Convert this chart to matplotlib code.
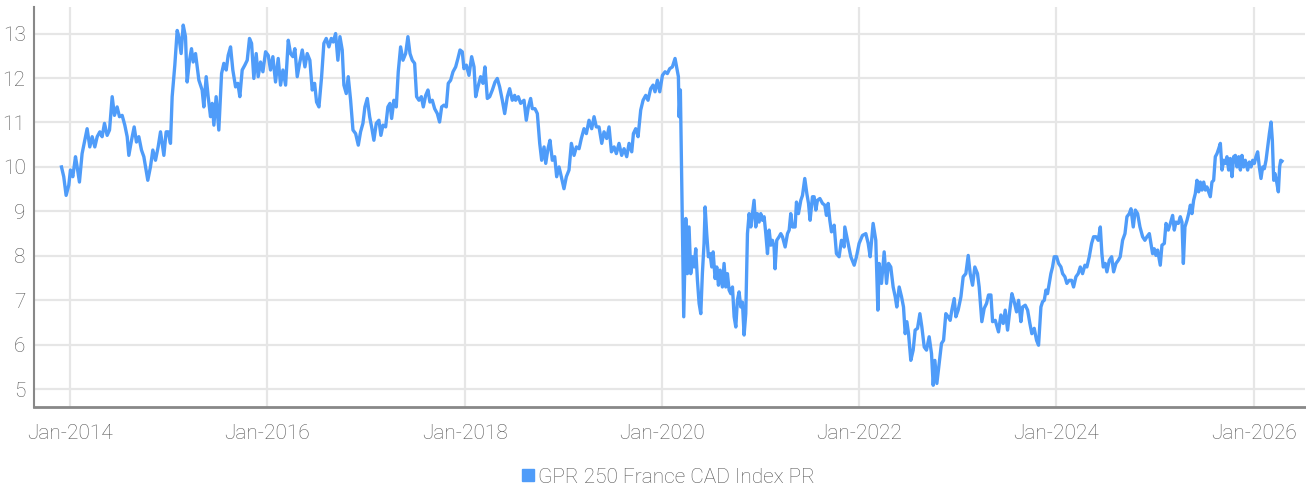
#! /usr/bin/env python3

import numpy as np
import matplotlib
matplotlib.use('Agg')
import matplotlib.pyplot as plt
from matplotlib.lines import Line2D

plt.rcParams['font.family'] = ['Roboto', 'DejaVu Sans']
plt.rcParams['font.weight'] = 'light'

SERIES_NAME = 'GPR 250 France CAD Index PR'
LINE_COLOR = '#4f9cf9'
TEXT_COLOR = '#555555'

# decimal years / index level
years_a = [2013.914, 2013.937, 2013.961, 2013.988, 2014.005, 2014.029, 2014.056, 2014.073, 2014.096, 2014.123,
           2014.150, 2014.174, 2014.201, 2014.225, 2014.252, 2014.276, 2014.303, 2014.326, 2014.350, 2014.377,
           2014.401, 2014.428, 2014.451, 2014.478, 2014.502, 2014.529, 2014.556, 2014.580, 2014.597, 2014.624,
           2014.651, 2014.674, 2014.698, 2014.725, 2014.749, 2014.766, 2014.789, 2014.816, 2014.840, 2014.867,
           2014.894, 2014.918, 2014.935, 2014.952, 2014.975, 2014.996, 2015.019, 2015.036, 2015.063, 2015.087,
           2015.104, 2015.127, 2015.148, 2015.171, 2015.188, 2015.212, 2015.232, 2015.249]
values_a = [10.0, 9.78, 9.36, 9.59, 9.93, 9.78, 10.23, 10.0, 9.66, 10.3,
            10.6, 10.86, 10.45, 10.68, 10.45, 10.68, 10.79, 10.68, 10.98, 10.71,
            10.83, 11.58, 11.16, 11.35, 11.13, 11.16, 10.94, 10.68, 10.26, 10.6,
            10.9, 10.56, 10.68, 10.38, 10.23, 10.0, 9.7, 10.0, 10.38, 10.15,
            10.45, 10.79, 10.53, 10.26, 10.79, 10.79, 10.53, 11.58, 12.29, 13.07,
            12.93, 12.55, 13.19, 12.93, 11.91, 12.4, 12.66, 12.36]

years_b = [2015.273, 2015.307, 2015.340, 2015.357, 2015.381, 2015.401, 2015.425, 2015.442, 2015.459, 2015.482,
           2015.509, 2015.537, 2015.560, 2015.584, 2015.604, 2015.628, 2015.651, 2015.679, 2015.702, 2015.722,
           2015.746, 2015.773, 2015.797, 2015.820, 2015.841, 2015.864, 2015.888, 2015.908, 2015.932, 2015.956,
           2015.983, 2016.010, 2016.033, 2016.057, 2016.084, 2016.111, 2016.135, 2016.159, 2016.186, 2016.213,
           2016.236, 2016.260, 2016.280, 2016.304, 2016.328, 2016.355, 2016.382, 2016.405, 2016.432, 2016.456,
           2016.480, 2016.500, 2016.524, 2016.551, 2016.574, 2016.598, 2016.625, 2016.649, 2016.669, 2016.693,
           2016.716, 2016.737, 2016.760, 2016.777, 2016.801, 2016.821, 2016.845, 2016.869]
values_b = [12.55, 11.95, 11.73, 11.35, 12.03, 11.58, 11.13, 11.43, 10.94, 11.58,
            10.83, 12.1, 12.33, 12.18, 12.51, 12.7, 12.18, 11.8, 11.88, 11.58,
            12.18, 12.29, 12.4, 12.89, 12.78, 11.99, 12.55, 12.03, 12.36, 12.14,
            12.59, 12.51, 12.18, 12.48, 11.91, 12.44, 11.84, 12.18, 11.84, 12.85,
            12.55, 12.48, 12.66, 12.03, 12.33, 12.63, 12.25, 12.55, 12.4, 11.73,
            11.88, 11.46, 11.35, 12.03, 12.78, 12.89, 12.7, 12.89, 12.81, 13.0,
            12.4, 12.93, 12.63, 11.84, 11.65, 12.03, 11.5, 10.83]

years_c = [2016.896, 2016.923, 2016.946, 2016.970, 2016.990, 2017.014, 2017.038, 2017.058, 2017.081, 2017.105,
           2017.132, 2017.152, 2017.173, 2017.200, 2017.223, 2017.244, 2017.261, 2017.284, 2017.308, 2017.328,
           2017.352, 2017.376, 2017.403, 2017.426, 2017.447, 2017.470, 2017.494, 2017.514, 2017.538, 2017.562,
           2017.582, 2017.606, 2017.629, 2017.649, 2017.673, 2017.697, 2017.724, 2017.747, 2017.768, 2017.791,
           2017.815, 2017.835, 2017.859, 2017.883, 2017.910, 2017.933, 2017.954, 2017.977, 2017.994, 2018.018,
           2018.045, 2018.072, 2018.096, 2018.113, 2018.136, 2018.163, 2018.187, 2018.207, 2018.231, 2018.255,
           2018.282, 2018.309, 2018.332, 2018.356, 2018.383, 2018.407, 2018.434, 2018.457, 2018.484, 2018.508]
values_c = [10.75, 10.49, 10.79, 10.98, 11.35, 11.54, 11.13, 10.9, 10.6, 10.98,
            11.05, 10.71, 10.94, 10.9, 11.35, 11.43, 11.09, 11.5, 11.35, 12.14,
            12.7, 12.4, 12.55, 12.93, 12.55, 12.4, 12.33, 11.58, 11.5, 11.58,
            11.35, 11.61, 11.73, 11.46, 11.5, 11.31, 11.2, 11.01, 11.35, 11.39,
            11.35, 11.88, 11.95, 12.14, 12.25, 12.44, 12.63, 12.59, 12.21, 12.29,
            12.06, 12.48, 12.25, 11.58, 11.8, 12.03, 11.88, 12.25, 11.54, 11.58,
            11.73, 11.91, 11.99, 11.8, 11.5, 11.2, 11.58, 11.76, 11.5, 11.61]

years_d = [2018.518, 2018.545, 2018.569, 2018.603, 2018.626, 2018.647, 2018.670, 2018.687, 2018.714, 2018.738,
           2018.762, 2018.782, 2018.806, 2018.823, 2018.846, 2018.866, 2018.890, 2018.914, 2018.934, 2018.958,
           2018.981, 2019.008, 2019.032, 2019.059, 2019.083, 2019.110, 2019.134, 2019.161, 2019.184, 2019.211,
           2019.235, 2019.262, 2019.289, 2019.313, 2019.336, 2019.363, 2019.391, 2019.414, 2019.441, 2019.465,
           2019.489, 2019.516, 2019.539, 2019.566, 2019.593, 2019.617, 2019.644, 2019.668, 2019.695, 2019.712,
           2019.735, 2019.759, 2019.786, 2019.810, 2019.837, 2019.860, 2019.887, 2019.911, 2019.931, 2019.955,
           2019.979, 2020.006, 2020.033, 2020.056, 2020.080, 2020.107, 2020.134]
values_d = [11.5, 11.58, 11.43, 11.5, 11.05, 11.35, 11.54, 11.31, 11.31, 11.2,
            10.53, 10.15, 10.45, 10.08, 10.41, 10.6, 10.15, 10.23, 9.78, 10.0,
            9.78, 9.51, 9.78, 9.93, 10.53, 10.26, 10.45, 10.41, 10.64, 10.86,
            10.75, 11.05, 10.86, 11.13, 10.9, 10.9, 10.53, 10.79, 10.64, 10.9,
            10.34, 10.45, 10.3, 10.53, 10.26, 10.41, 10.23, 10.53, 10.34, 10.75,
            10.86, 10.68, 11.28, 11.5, 11.61, 11.5, 11.76, 11.84, 11.69, 11.95,
            11.69, 12.06, 12.14, 12.1, 12.21, 12.25, 12.44]

years_e = [2020.168, 2020.175, 2020.188, 2020.222, 2020.243, 2020.259, 2020.276, 2020.293, 2020.310, 2020.327,
           2020.344, 2020.361, 2020.378, 2020.395, 2020.411, 2020.428, 2020.439, 2020.455, 2020.472, 2020.489,
           2020.506, 2020.520, 2020.540, 2020.557, 2020.574, 2020.591, 2020.614, 2020.631, 2020.648, 2020.665,
           2020.682, 2020.699, 2020.716, 2020.733, 2020.750, 2020.766, 2020.783, 2020.800, 2020.817, 2020.834,
           2020.851, 2020.868, 2020.885, 2020.902, 2020.919, 2020.935, 2020.952, 2020.969, 2020.986, 2021.003,
           2021.020, 2021.037, 2021.054, 2021.071, 2021.088, 2021.105, 2021.121, 2021.138, 2021.148, 2021.165,
           2021.189, 2021.206, 2021.223, 2021.250, 2021.274, 2021.291, 2021.307, 2021.324, 2021.351, 2021.365,
           2021.385, 2021.409, 2021.426, 2021.449, 2021.470, 2021.487, 2021.503, 2021.527, 2021.544, 2021.561,
           2021.578, 2021.602, 2021.629, 2021.652, 2021.669, 2021.686, 2021.703, 2021.720, 2021.747, 2021.770,
           2021.797, 2021.821, 2021.848]
values_e = [12.03, 11.13, 11.73, 6.63, 8.84, 7.6, 8.65, 7.6, 7.98, 7.75,
            8.16, 7.45, 6.93, 6.7, 7.6, 8.28, 9.1, 8.5, 7.98, 8.05,
            7.75, 8.09, 7.49, 7.75, 7.34, 7.68, 7.3, 7.83, 7.3, 7.6,
            7.23, 7.15, 7.3, 6.63, 6.4, 7.0, 7.19, 6.85, 6.96, 6.22,
            6.7, 8.5, 8.95, 8.65, 8.95, 9.25, 8.65, 8.95, 8.76, 8.95,
            8.8, 8.88, 8.5, 8.05, 8.58, 8.24, 8.35, 8.2, 7.71, 8.35,
            8.43, 8.5, 8.43, 8.2, 8.5, 8.58, 8.95, 8.65, 8.65, 9.21,
            8.95, 9.25, 9.36, 9.74, 9.4, 9.18, 8.8, 9.33, 9.33, 9.03,
            9.25, 9.29, 9.18, 9.14, 8.91, 9.18, 8.8, 8.54, 8.69, 8.05,
            7.98, 8.35, 8.2]

years_f = [2021.855, 2021.882, 2021.916, 2021.950, 2021.973, 2022.000, 2022.034, 2022.068, 2022.092, 2022.112,
           2022.142, 2022.169, 2022.190, 2022.203, 2022.227, 2022.254, 2022.278, 2022.298, 2022.321, 2022.345,
           2022.366, 2022.382, 2022.406, 2022.430, 2022.450, 2022.467, 2022.484, 2022.501, 2022.524, 2022.548,
           2022.568, 2022.592, 2022.616, 2022.636, 2022.660, 2022.683, 2022.710, 2022.734, 2022.751, 2022.768,
           2022.788, 2022.812, 2022.835, 2022.856, 2022.879, 2022.903, 2022.923, 2022.940, 2022.964, 2022.981,
           2023.004, 2023.032, 2023.055, 2023.082, 2023.106, 2023.126, 2023.150, 2023.173, 2023.200, 2023.217,
           2023.244, 2023.268, 2023.292, 2023.312, 2023.336, 2023.353, 2023.380]
values_f = [8.65, 8.35, 7.98, 7.79, 7.98, 8.28, 8.46, 8.5, 8.28, 7.98,
            8.73, 8.35, 6.78, 7.83, 7.38, 8.09, 7.38, 7.83, 7.75, 7.3,
            7.08, 6.85, 7.3, 7.08, 6.85, 6.25, 6.52, 6.25, 5.65, 5.88,
            6.33, 6.37, 6.7, 6.4, 5.95, 5.88, 6.18, 5.8, 5.09, 5.65,
            5.13, 5.58, 6.03, 6.1, 6.7, 6.63, 6.55, 6.78, 7.04, 6.63,
            6.78, 7.08, 7.53, 7.6, 8.01, 7.6, 7.34, 7.75, 7.6, 7.3,
            6.52, 6.82, 6.93, 7.12, 7.12, 6.52, 6.55]

years_g = [2023.413, 2023.437, 2023.461, 2023.481, 2023.505, 2023.528, 2023.549, 2023.572, 2023.596, 2023.616,
           2023.640, 2023.657, 2023.684, 2023.708, 2023.731, 2023.751, 2023.775, 2023.799, 2023.819, 2023.843,
           2023.860, 2023.877, 2023.894, 2023.910, 2023.927, 2023.944, 2023.961, 2023.978, 2024.002, 2024.022,
           2024.046, 2024.063, 2024.086, 2024.106, 2024.130, 2024.154, 2024.174, 2024.198, 2024.221, 2024.242,
           2024.265, 2024.289, 2024.309, 2024.333, 2024.357, 2024.377, 2024.401, 2024.424, 2024.445, 2024.461,
           2024.475, 2024.495, 2024.512, 2024.536, 2024.560, 2024.580, 2024.604, 2024.627, 2024.647, 2024.671,
           2024.695, 2024.715, 2024.739, 2024.756, 2024.779, 2024.800, 2024.823, 2024.847, 2024.874, 2024.897,
           2024.918, 2024.942]
values_g = [6.29, 6.67, 6.48, 6.78, 6.33, 6.78, 7.15, 6.97, 6.74, 7.0,
            6.52, 6.85, 6.89, 6.78, 6.48, 6.25, 6.37, 6.1, 5.99, 6.85,
            6.97, 7.0, 7.23, 7.15, 7.38, 7.6, 7.75, 7.98, 7.98, 7.83,
            7.75, 7.6, 7.53, 7.38, 7.45, 7.45, 7.3, 7.53, 7.6, 7.75,
            7.6, 7.79, 7.75, 7.98, 8.28, 8.43, 8.43, 8.35, 8.65, 8.05,
            7.75, 7.83, 7.64, 7.9, 7.98, 7.64, 7.83, 7.9, 7.98, 8.35,
            8.5, 8.88, 8.95, 9.06, 8.65, 9.03, 8.95, 8.65, 8.43, 8.35,
            8.43, 8.5]

years_h = [2024.975, 2024.992, 2025.009, 2025.026, 2025.053, 2025.070, 2025.094, 2025.111, 2025.134, 2025.155,
           2025.178, 2025.195, 2025.212, 2025.236, 2025.256, 2025.273, 2025.287, 2025.303, 2025.324, 2025.341,
           2025.358, 2025.374, 2025.391, 2025.408, 2025.425, 2025.442, 2025.459, 2025.476, 2025.493, 2025.510,
           2025.526, 2025.543, 2025.560, 2025.577, 2025.594, 2025.611, 2025.628, 2025.645, 2025.662, 2025.679,
           2025.696, 2025.712, 2025.729, 2025.746, 2025.763, 2025.780, 2025.797, 2025.814, 2025.831, 2025.848,
           2025.865, 2025.881, 2025.898, 2025.915, 2025.939, 2025.956, 2025.973, 2025.990, 2026.007, 2026.023,
           2026.040, 2026.057, 2026.074, 2026.091, 2026.108, 2026.125, 2026.142, 2026.159, 2026.176, 2026.189,
           2026.203, 2026.216, 2026.233, 2026.250, 2026.263, 2026.274, 2026.287]
values_h = [8.05, 8.16, 8.01, 8.13, 7.79, 8.24, 8.28, 8.73, 8.58, 8.73,
            8.91, 8.58, 8.76, 8.73, 8.88, 8.76, 7.83, 8.65, 8.8, 8.95,
            9.14, 8.95, 9.25, 9.4, 9.7, 9.44, 9.66, 9.48, 9.66, 9.48,
            9.55, 9.44, 9.33, 9.66, 9.7, 10.23, 10.3, 10.41, 10.53, 9.93,
            10.15, 10.08, 10.23, 9.93, 10.19, 9.78, 10.23, 10.26, 10.0, 10.23,
            9.93, 10.26, 10.0, 10.15, 9.93, 10.11, 10.0, 10.15, 10.08, 10.23,
            10.34, 10.0, 9.74, 10.0, 9.96, 10.15, 10.45, 10.75, 11.01, 10.6,
            9.7, 9.85, 9.66, 9.44, 10.0, 10.15, 10.13]

tick_years = [2014, 2016, 2018, 2020, 2022, 2024, 2026]
tick_labels = ['Jan-2014', 'Jan-2016', 'Jan-2018', 'Jan-2020', 'Jan-2022', 'Jan-2024', 'Jan-2026']
y_ticks = [5, 6, 7, 8, 9, 10, 11, 12, 13]

years = np.concatenate([years_a, years_b, years_c, years_d, years_e, years_f, years_g, years_h])
values = np.concatenate([values_a, values_b, values_c, values_d, values_e, values_f, values_g, values_h])

fig = plt.figure(figsize=(13.06, 4.91), dpi=100)
ax = fig.add_axes([0.026, 0.171, 0.973, 0.815])

ax.plot(years, values, color=LINE_COLOR, lw=2.4, solid_joinstyle='round', zorder=3)

ax.set_xlim(2013.635, 2026.517)
ax.set_ylim(4.6, 13.6)
ax.set_xticks(tick_years)
ax.set_xticklabels(tick_labels)
ax.set_yticks(y_ticks)

ax.grid(True, color='#e6e6e6', lw=1.6, zorder=0)
ax.tick_params(length=0, labelsize=15, labelcolor=TEXT_COLOR)
ax.tick_params(axis='x', pad=12)
ax.tick_params(axis='y', pad=6)

for side in ['top', 'right']:
    ax.spines[side].set_visible(False)
ax.spines['left'].set_color('#888888')
ax.spines['left'].set_linewidth(1.5)
ax.spines['bottom'].set_color('#888888')
ax.spines['bottom'].set_linewidth(2.0)

handle = Line2D([], [], color=LINE_COLOR, marker='s', linestyle='none', markersize=8)
fig.legend([handle], [SERIES_NAME], loc='center', bbox_to_anchor=(0.511, 0.028),
           frameon=False, fontsize=15, labelcolor=TEXT_COLOR,
           handletextpad=0.1, handlelength=0.8, borderaxespad=0)

fig.savefig('out.png', dpi=100)
